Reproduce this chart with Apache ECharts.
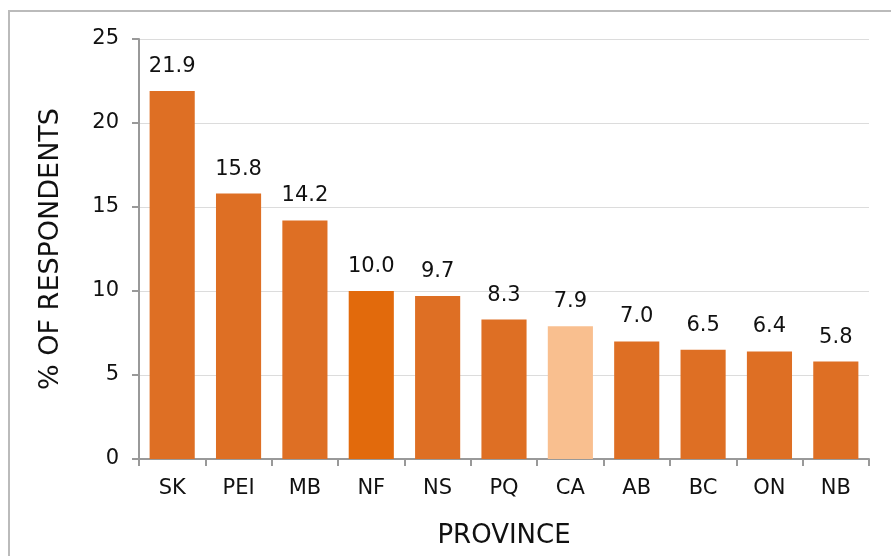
<!DOCTYPE html>
<html><head><meta charset="utf-8">
<script src="https://cdn.jsdelivr.net/npm/echarts@6/dist/echarts.min.js"></script>
<style>html,body{margin:0;padding:0;background:#fff}#c{width:891px;height:556px}</style>
</head><body><div id="c"></div>
<script>
const categories = ['SK','PEI','MB','NF','NS','PQ','CA','AB','BC','ON','NB'];
const values = [21.9,15.8,14.2,10.0,9.7,8.3,7.9,7.0,6.5,6.4,5.8];
const barColors = ['#DE6F24','#DE6F24','#DE6F24','#E26A0C','#DE6F24','#DE6F24','#F9BF8F','#DE6F24','#DE6F24','#DE6F24','#DE6F24'];
const yTicks = [0,5,10,15,20,25];
const FONT = 'DejaVu Sans';
const chart = echarts.init(document.getElementById('c'));
chart.setOption({
  animation:false,
  graphic:[{type:'rect',shape:{x:9,y:11,width:900,height:600},style:{fill:'none',stroke:'#bbb',lineWidth:2},silent:true}],
  grid:{left:139,right:22,top:39,bottom:97},
  xAxis:{type:'category',data:categories,
    axisLine:{lineStyle:{color:'#999',width:2}},
    axisTick:{show:true,length:7,lineStyle:{color:'#999',width:2}},
    axisLabel:{color:'#111',fontSize:21,fontFamily:FONT,margin:19},
    name:'PROVINCE',nameLocation:'middle',nameGap:64,
    nameTextStyle:{color:'#111',fontSize:26,fontFamily:FONT}},
  yAxis:{type:'value',min:yTicks[0],max:yTicks[yTicks.length-1],interval:5,
    axisLine:{show:true,lineStyle:{color:'#999',width:2}},
    axisTick:{show:true,length:7,lineStyle:{color:'#999',width:2}},
    splitLine:{lineStyle:{color:'#dcdcdc',width:1}},
    axisLabel:{color:'#111',fontSize:21,fontFamily:FONT,margin:20},
    name:'% OF RESPONDENTS',nameLocation:'middle',nameGap:75,nameRotate:90,
    nameTextStyle:{color:'#111',fontSize:27,fontFamily:FONT}},
  series:[{type:'bar',barCategoryGap:'32%',
    data:values.map((v,i)=>({value:v,itemStyle:{color:barColors[i]}})),
    label:{show:true,position:'top',distance:14,color:'#111',fontSize:21,fontFamily:FONT,
      formatter:p=>p.value.toFixed(1)}}]
});
</script></body></html>
